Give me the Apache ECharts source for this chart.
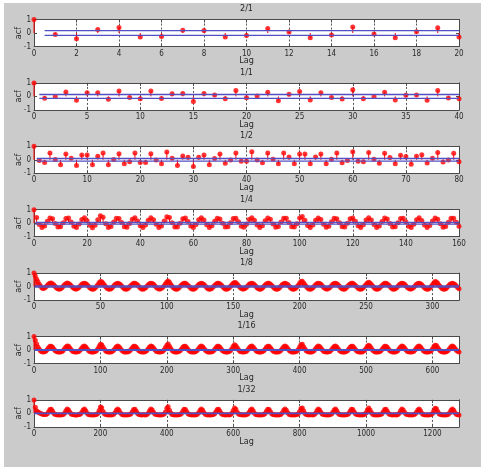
<!DOCTYPE html>
<html><head><meta charset="utf-8">
<script src="https://cdn.jsdelivr.net/npm/echarts/dist/echarts.min.js"></script>
<style>
html,body{margin:0;padding:0;background:#fff;}
#bg{position:absolute;left:4px;top:3px;width:477px;height:464px;background:#cbcbcb;}
#chart{position:absolute;left:0;top:0;width:481px;height:467px;}
</style></head>
<body><div id="bg"></div><div id="chart"></div>
<script>
const titles = ['2/1','1/1','1/2','1/4','1/8','1/16','1/32'];
const lagMax = [20,40,80,160,320,640,1280];
const lagStep = [1,1,1,1,1,2,4];
const xTickStep = [2,5,10,20,50,100,200];
const confLevel = [0.18,0.14,0.095,0.065,0.045,0.032,0.022];
const yMin = -1, yMax = 1, yTickStep = 1;

const acf_2_1 = [1.00,-0.12,-0.42,0.26,0.40,-0.30,-0.26,0.21,0.19,-0.30,-0.19,0.33,0.07,-0.36,-0.14,0.45,-0.07,-0.36,0.10,0.38,-0.29];

const acf_1_1 = [1.00,-0.14,0.00,0.33,-0.28,0.27,0.27,-0.22,0.40,-0.09,-0.18,0.40,-0.16,0.20,0.22,-0.38,0.22,0.11,-0.18,0.44,-0.10,0.03,0.31,-0.33,0.16,0.36,-0.27,0.27,-0.08,-0.20,0.49,-0.18,0.00,0.31,-0.27,0.09,0.11,-0.29,0.44,-0.11,-0.18];

const acf_1_2 = [1.00,-0.05,-0.20,0.50,0.02,-0.37,0.43,0.12,-0.43,0.36,0.36,-0.37,0.26,0.50,-0.37,0.02,0.45,-0.29,-0.15,0.50,-0.20,-0.20,0.45,-0.02,-0.29,0.57,0.12,-0.43,0.28,0.19,-0.50,0.19,0.36,-0.37,0.10,0.43,-0.26,-0.02,0.50,-0.10,-0.10,0.60,-0.02,-0.21,0.50,0.05,-0.29,0.50,0.21,-0.29,0.43,0.43,-0.29,0.21,0.43,-0.29,0.05,0.50,-0.21,-0.05,0.60,-0.10,-0.14,0.55,0.05,-0.26,0.48,0.17,-0.29,0.33,0.24,-0.33,0.26,0.38,-0.24,0.12,0.55,-0.17,-0.02,0.48,-0.14];

const acf_1_4 = [1.00,0.43,-0.09,-0.32,-0.21,0.14,0.39,0.33,-0.02,-0.29,-0.27,0.04,0.35,0.38,0.09,-0.23,-0.31,-0.06,0.27,0.41,0.19,-0.15,-0.33,-0.16,0.25,
0.56,0.45,-0.04,-0.31,-0.25,0.08,0.37,0.35,0.06,-0.26,-0.30,-0.03,0.30,0.40,0.16,-0.18,-0.32,-0.13,0.21,0.41,0.25,-0.08,-0.31,-0.21,0.16,
0.47,0.42,0.03,-0.28,-0.28,0.00,0.33,0.39,0.13,-0.21,-0.32,-0.10,0.25,0.41,
0.23,-0.12,-0.31,-0.19,0.15,0.37,0.31,0.00,-0.28,-0.26,0.04,0.35,0.36,0.11,-0.22,-0.30,-0.07,0.27,0.40,0.21,-0.14,-0.31,-0.18,0.18,0.38,0.29,-0.05,-0.30,-0.24,0.08,0.36,0.37,0.06,-0.26,-0.29,-0.04,0.38,0.50,0.22,-0.17,-0.32,-0.13,0.21,0.39,0.27,-0.07,-0.30,-0.22,0.11,0.37,0.33,0.03,-0.27,-0.29,-0.01,0.33,0.39,0.14,-0.19,-0.32,-0.11,0.24,0.40,
0.24,-0.10,-0.32,-0.20,0.13,0.38,0.32,-0.02,-0.28,-0.27,0.03,0.34,0.37,0.10,-0.22,-0.31,-0.07,0.26,0.40,0.20,-0.14,-0.32,-0.17,0.17,0.39,0.29,-0.04,-0.30,-0.25,0.07,0.36,0.36,0.07,-0.22];

const acf_1_8 = [1.00,0.78,0.55,0.36,0.17,0.02,-0.10,-0.14,-0.10,-0.02,0.09,0.19,0.25,0.26,0.20,0.11,0.01,-0.10,-0.16,-0.19,-0.16,-0.08,0.02,0.13,0.22,0.26,0.23,0.16,0.07,-0.04,-0.13,-0.18,-0.18,-0.13,-0.04,0.07,0.17,0.23,0.25,0.21,0.13,0.02,-0.08,-0.16,-0.19,-0.17,-0.10,0.01,0.14,0.29,0.38,0.36,0.25,0.11,-0.02,-0.12,-0.18,-0.19,-0.15,-0.06,0.05,0.15,0.22,
0.25,0.22,0.15,0.05,-0.06,-0.15,-0.19,-0.18,-0.12,-0.02,0.09,0.18,0.24,0.25,0.20,0.11,0.00,-0.10,-0.17,-0.19,-0.16,-0.08,0.02,0.13,0.21,0.25,0.23,0.17,0.07,-0.04,-0.13,-0.18,-0.18,-0.13,-0.04,0.07,0.21,0.34,0.41,0.32,0.16,0.02,-0.08,-0.16,-0.19,-0.17,-0.10,0.00,0.11,0.20,0.25,0.24,0.18,0.09,-0.02,-0.12,-0.18,-0.19,-0.15,-0.06,0.05,0.15,0.22,
0.25,0.22,0.15,0.05,-0.06,-0.15,-0.19,-0.18,-0.12,-0.02,0.09,0.18,0.24,0.25,0.20,0.11,0.00,-0.10,-0.17,-0.19,-0.16,-0.08,0.02,0.14,0.25,0.31,0.28,0.18,0.07,-0.04,-0.13,-0.18,-0.18,-0.13,-0.04,0.07,0.17,0.23,0.25,0.21,0.13,0.02,-0.08,-0.16,-0.19,-0.17,-0.10,0.00,0.11,0.20,0.25,0.24,0.18,0.09,-0.02,-0.12,-0.18,-0.19,-0.15,-0.06,0.05,0.15,0.22,
0.25,0.22,0.15,0.05,-0.06,-0.15,-0.19,-0.18,-0.12,-0.02,0.10,0.25,0.37,0.39,0.27,0.13,0.00,-0.10,-0.17,-0.19,-0.16,-0.08,0.02,0.13,0.21,0.25,0.23,0.17,0.07,-0.04,-0.13,-0.18,-0.18,-0.13,-0.04,0.07,0.17,0.23,0.25,0.21,0.13,0.02,-0.08,-0.16,-0.19,-0.17,-0.10,0.00,0.11,0.20,0.25,0.24,0.18,0.09,-0.02,-0.12,-0.18,-0.19,-0.15,-0.06,0.05,0.15,0.26,
0.32,0.27,0.16,0.05,-0.06,-0.15,-0.19,-0.18,-0.12,-0.02,0.09,0.18,0.24,0.25,0.20,0.11,0.00,-0.10,-0.17,-0.19,-0.16,-0.08,0.02,0.13,0.21,0.25,0.23,0.17,0.07,-0.04,-0.13,-0.18,-0.18,-0.13,-0.04,0.07,0.17,0.23,0.25,0.21,0.13,0.02,-0.08,-0.16,-0.19,-0.17,-0.10,0.00,0.13,0.27,0.37,0.35,0.24,0.10,-0.02,-0.12,-0.18,-0.19,-0.15,-0.06,0.05,0.15,0.22,
0.25,0.22,0.15,0.05,-0.06,-0.15];

const acf_1_16 = [1.00,0.72,0.45,0.22,0.05,-0.07,-0.13,-0.14,-0.13,-0.08,0.03,0.17,0.27,0.28,0.20,0.06,-0.06,-0.12,-0.14,-0.15,-0.14,-0.11,-0.04,0.09,0.22,0.30,0.27,0.14,0.01,-0.09,-0.13,-0.14,-0.15,-0.13,-0.09,0.01,0.14,0.26,0.29,0.22,0.09,-0.04,-0.11,-0.14,-0.15,-0.14,-0.12,-0.05,0.08,0.26,0.42,0.38,0.22,0.05,-0.08,-0.13,-0.14,-0.14,-0.14,-0.10,-0.02,0.12,0.24,
0.29,0.24,0.12,-0.02,-0.10,-0.14,-0.14,-0.14,-0.13,-0.08,0.03,0.17,0.27,0.28,0.20,0.06,-0.06,-0.12,-0.14,-0.14,-0.14,-0.11,-0.04,0.09,0.22,0.29,0.26,0.14,0.01,-0.09,-0.13,-0.14,-0.14,-0.13,-0.09,0.01,0.18,0.36,0.44,0.28,0.11,-0.04,-0.11,-0.14,-0.14,-0.14,-0.12,-0.06,0.06,0.20,0.28,0.27,0.17,0.03,-0.08,-0.13,-0.14,-0.14,-0.14,-0.10,-0.02,0.12,0.24,
0.29,0.24,0.12,-0.02,-0.10,-0.14,-0.14,-0.14,-0.13,-0.08,0.03,0.17,0.27,0.28,0.20,0.06,-0.06,-0.12,-0.14,-0.14,-0.14,-0.11,-0.04,0.09,0.27,0.38,0.32,0.16,0.01,-0.09,-0.13,-0.14,-0.14,-0.13,-0.09,0.01,0.14,0.26,0.29,0.22,0.09,-0.04,-0.11,-0.14,-0.14,-0.14,-0.12,-0.06,0.06,0.20,0.28,0.27,0.17,0.03,-0.08,-0.13,-0.14,-0.14,-0.14,-0.10,-0.02,0.12,0.24,
0.29,0.24,0.12,-0.02,-0.10,-0.14,-0.14,-0.14,-0.13,-0.08,0.03,0.22,0.38,0.42,0.24,0.07,-0.06,-0.12,-0.14,-0.14,-0.14,-0.11,-0.04,0.09,0.22,0.29,0.26,0.14,0.01,-0.09,-0.13,-0.14,-0.14,-0.13,-0.09,0.01,0.14,0.26,0.29,0.22,0.09,-0.04,-0.11,-0.14,-0.14,-0.14,-0.12,-0.06,0.06,0.20,0.28,0.27,0.17,0.03,-0.08,-0.13,-0.14,-0.14,-0.14,-0.10,-0.02,0.12,0.27,
0.36,0.28,0.13,-0.02,-0.10,-0.14,-0.14,-0.14,-0.13,-0.08,0.03,0.17,0.27,0.28,0.20,0.06,-0.06,-0.12,-0.14,-0.14,-0.14,-0.11,-0.04,0.09,0.22,0.29,0.26,0.14,0.01,-0.09,-0.13,-0.14,-0.14,-0.13,-0.09,0.01,0.14,0.26,0.29,0.22,0.09,-0.04,-0.11,-0.14,-0.14,-0.14,-0.12,-0.06,0.07,0.24,0.36,0.33,0.19,0.03,-0.08,-0.13,-0.14,-0.14,-0.14,-0.10,-0.02,0.12,0.24,
0.29,0.24,0.12,-0.02,-0.10,-0.14];

const acf_1_32 = [1.00,0.45,0.20,0.10,0.05,0.00,-0.05,-0.08,-0.09,-0.09,-0.03,0.12,0.28,0.30,0.16,-0.01,-0.08,-0.10,-0.11,-0.10,-0.11,-0.10,-0.08,0.02,0.19,0.32,0.26,0.08,-0.05,-0.09,-0.10,-0.11,-0.11,-0.10,-0.09,-0.05,0.08,0.26,0.32,0.19,0.02,-0.08,-0.10,-0.11,-0.10,-0.11,-0.10,-0.08,-0.01,0.22,0.48,0.42,0.15,-0.03,-0.09,-0.10,-0.11,-0.10,-0.11,-0.10,-0.06,0.05,0.23,
0.32,0.23,0.05,-0.06,-0.10,-0.11,-0.10,-0.11,-0.10,-0.09,-0.03,0.12,0.28,0.30,0.16,-0.01,-0.08,-0.10,-0.11,-0.10,-0.10,-0.11,-0.08,0.02,0.19,0.32,0.26,0.08,-0.05,-0.09,-0.10,-0.11,-0.10,-0.11,-0.09,-0.05,0.10,0.38,0.50,0.24,0.03,-0.08,-0.10,-0.11,-0.10,-0.11,-0.10,-0.08,-0.01,0.16,0.30,0.28,0.12,-0.03,-0.09,-0.10,-0.11,-0.10,-0.11,-0.10,-0.06,0.05,0.23,
0.32,0.23,0.05,-0.06,-0.10,-0.11,-0.10,-0.11,-0.10,-0.09,-0.03,0.12,0.28,0.30,0.16,-0.01,-0.08,-0.10,-0.11,-0.10,-0.10,-0.11,-0.08,0.02,0.22,0.40,0.30,0.09,-0.05,-0.09,-0.10,-0.11,-0.10,-0.11,-0.09,-0.05,0.08,0.26,0.32,0.19,0.02,-0.08,-0.10,-0.11,-0.10,-0.11,-0.10,-0.08,-0.01,0.16,0.30,0.28,0.12,-0.03,-0.09,-0.10,-0.11,-0.10,-0.11,-0.10,-0.06,0.05,0.23,
0.32,0.23,0.05,-0.06,-0.10,-0.11,-0.10,-0.11,-0.10,-0.09,-0.03,0.14,0.36,0.40,0.20,0.00,-0.08,-0.10,-0.11,-0.10,-0.10,-0.11,-0.08,0.02,0.19,0.32,0.26,0.08,-0.05,-0.09,-0.10,-0.11,-0.10,-0.11,-0.09,-0.05,0.08,0.26,0.32,0.19,0.02,-0.08,-0.10,-0.11,-0.10,-0.11,-0.10,-0.08,-0.01,0.16,0.30,0.28,0.12,-0.03,-0.09,-0.10,-0.11,-0.10,-0.11,-0.10,-0.06,0.05,0.25,
0.40,0.26,0.06,-0.06,-0.10,-0.11,-0.10,-0.11,-0.10,-0.09,-0.03,0.12,0.28,0.30,0.16,-0.01,-0.08,-0.10,-0.11,-0.10,-0.10,-0.11,-0.08,0.02,0.19,0.32,0.26,0.08,-0.05,-0.09,-0.10,-0.11,-0.10,-0.11,-0.09,-0.05,0.08,0.26,0.32,0.19,0.02,-0.08,-0.10,-0.11,-0.10,-0.11,-0.10,-0.08,0.00,0.19,0.38,0.34,0.14,-0.03,-0.09,-0.10,-0.11,-0.10,-0.11,-0.10,-0.06,0.05,0.23,
0.32,0.23,0.05,-0.06,-0.10,-0.11];

const acfList = [acf_2_1, acf_1_1, acf_1_2, acf_1_4, acf_1_8, acf_1_16, acf_1_32];

// ---- styling / layout ----
const FONT = '"Liberation Sans Narrow","DejaVu Sans Condensed","Liberation Sans",Arial,sans-serif';
const TX = '#2a2a2a', AX = '#4a4a4a', RED = '#ff0000', BLUE = '#5050c4', GRIDC = '#555555';
const L = 34, W = 425, H = 27, TOP0 = 19.5, GAP = 63.4;

const chart = echarts.init(document.getElementById('chart'), null, {renderer: 'canvas'});
const grid = [], xAxis = [], yAxis = [], series = [], title = [];

acfList.forEach((acf, i) => {
  const top = TOP0 + GAP * i;
  grid.push({left: L, top: top, width: W, height: H, show: true, backgroundColor: '#ffffff', borderWidth: 0,
    containLabel: false, outerBoundsMode: 'none'});
  const tick = {fontSize: 8, color: TX, fontFamily: FONT};
  const txt = {fontSize: 9, color: TX, fontFamily: FONT};
  const maxAligned = lagMax[i] % xTickStep[i] === 0;
  xAxis.push({gridIndex: i, type: 'value', min: 0, max: lagMax[i], interval: xTickStep[i], position: 'bottom',
    axisLine: {show: true, onZero: false, lineStyle: {color: AX, width: 1}},
    axisTick: {show: true, inside: true, length: 3, lineStyle: {color: AX}},
    axisLabel: Object.assign({margin: 3, showMaxLabel: maxAligned, formatter: v => String(v)}, tick),
    splitLine: {show: true, lineStyle: {color: GRIDC, type: [2, 2], width: 1}},
    name: 'Lag', nameLocation: 'middle', nameGap: 10, nameMoveOverlap: false, nameTextStyle: txt});
  xAxis.push({gridIndex: i, type: 'value', min: 0, max: lagMax[i], interval: xTickStep[i], position: 'top',
    axisLine: {show: true, onZero: false, lineStyle: {color: AX, width: 1}},
    axisTick: {show: true, inside: true, length: 3, lineStyle: {color: AX}},
    axisLabel: {show: false}, splitLine: {show: false}});
  yAxis.push({gridIndex: i, type: 'value', min: yMin, max: yMax, interval: yTickStep, position: 'left',
    axisLine: {show: true, onZero: false, lineStyle: {color: AX, width: 1}},
    axisTick: {show: true, inside: true, length: 3, lineStyle: {color: AX}},
    axisLabel: Object.assign({margin: 3}, tick),
    splitLine: {show: false},
    name: 'acf', nameLocation: 'middle', nameGap: 11, nameRotate: 90, nameMoveOverlap: false, nameTextStyle: txt});
  yAxis.push({gridIndex: i, type: 'value', min: yMin, max: yMax, interval: yTickStep, position: 'right',
    axisLine: {show: true, onZero: false, lineStyle: {color: AX, width: 1}},
    axisTick: {show: true, inside: true, length: 3, lineStyle: {color: AX}},
    axisLabel: {show: false}, splitLine: {show: false}});

  title.push({text: titles[i], left: L + W / 2, top: top - 15, textAlign: 'center', padding: 0,
    textStyle: {fontSize: 9, fontWeight: 'normal', color: TX, fontFamily: FONT}});

  const pts = acf.map((v, k) => [k * lagStep[i], v]);
  const xi = 2 * i, yi = 2 * i;
  series.push({type: 'custom', xAxisIndex: xi, yAxisIndex: yi, data: pts, silent: true, z: 2,
    renderItem: (params, api) => {
      const x = api.value(0), y = api.value(1);
      const p0 = api.coord([x, 0]), p1 = api.coord([x, y]);
      return {type: 'line', shape: {x1: p0[0], y1: p0[1], x2: p1[0], y2: p1[1]},
              style: {stroke: RED, lineWidth: 1}};
    }});
  series.push({type: 'scatter', xAxisIndex: xi, yAxisIndex: yi, data: pts, symbol: 'circle', symbolSize: 5,
    itemStyle: {color: RED}, silent: true, z: 3});
  const c = confLevel[i];
  [c, -c].forEach(cv => {
    series.push({type: 'line', xAxisIndex: xi, yAxisIndex: yi, data: [[0.5, cv], [lagMax[i], cv]],
      symbol: 'none', lineStyle: {color: BLUE, width: 1.3}, silent: true, z: 4});
  });
});

chart.setOption({animation: false, backgroundColor: 'transparent', title, grid, xAxis, yAxis, series});
</script>
</body></html>
